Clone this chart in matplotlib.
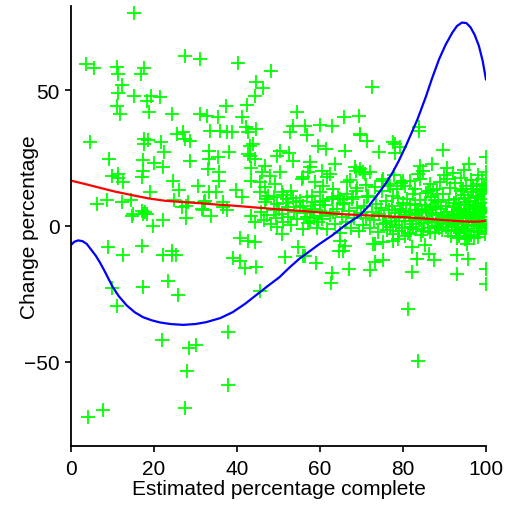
import matplotlib
matplotlib.use("Agg")
import matplotlib.pyplot as plt

plt.rcParams["font.family"] = ["Liberation Sans", "DejaVu Sans"]

# scattered observations (estimated % complete, change %)
sparse_x = [15.2, 3.6, 5.5, 11.0, 11.4, 17.7, 16.9, 27.5, 31.1, 40.2, 44.6, 44.3,
            12.2, 11.4, 15.3, 18.2, 19.4, 21.4, 11.0, 11.7, 18.9, 24.3, 37.3, 42.3,
            31.1, 32.7, 35.5, 41.1, 4.7, 9.2, 17.7, 21.7, 22.5, 25.5, 27.1, 28.8,
            17.6, 17.4, 20.1, 22.1, 17.4, 17.0, 28.7, 33.2, 33.3, 35.5, 38.1, 33.5,
            35.9, 37.5, 42.2, 42.7, 43.9, 42.7, 43.5, 9.9, 11.4, 12.6, 24.5, 26.1,
            30.7, 33.3, 34.9, 35.7, 35.7, 39.8, 6.2, 8.6, 12.2, 14.5, 19.0, 14.6,
            17.0, 18.2, 19.8, 22.2, 24.9, 27.7, 27.7, 31.9, 33.7, 36.7, 37.5, 43.5,
            44.3, 40.7, 42.7, 44.3, 17.0, 9.0, 12.6, 22.2, 24.3, 25.3, 39.1, 40.7,
            41.9, 44.7, 23.3, 10.0, 17.3, 25.7, 11.0, 37.9, 21.9, 28.5, 30.1, 27.9,
            37.9, 7.8, 4.0, 27.5, 45.5, 51.6, 54.6, 56.4, 59.0, 62.8, 62.7, 64.7,
            55.8, 67.1, 65.6, 72.0, 73.3, 75.1, 73.3, 82.1, 83.3, 82.1, 86.3, 87.5,
            85.3, 93.0, 95.7, 93.0, 95.4, 99.9, 99.9, 81.1, 83.7, 48.2, 46.3, 72.5,
            54.4, 53.6, 56.4, 52.8, 56.8, 60.0, 62.8, 65.9, 69.5, 69.6, 71.3, 44.7,
            83.9, 59.6, 61.4, 66.0, 74.3, 78.1, 78.1, 89.7, 50.4, 49.6, 52.6, 53.6,
            57.6, 63.6, 43.1, 44.3, 46.7, 50.4, 55.6, 57.2, 60.4, 62.4, 68.4, 68.8,
            70.4, 72.0, 74.9, 80.1, 84.1, 84.9, 86.9, 90.5, 84.1, 99.9, 99.9, 99.9,
            96.9, 94.5, 38.7, 43.1, 57.6, 33.1, 46.0, 48.0, 43.5, 45.5, 46.7, 49.2,
            56.0, 58.8, 60.8, 61.6, 63.2, 41.1, 32.3, 36.7, 45.5, 47.5, 50.8, 52.0,
            53.6, 55.2, 56.8, 58.8, 60.8, 62.8, 64.4, 65.6, 46.7, 49.6, 52.4, 56.0,
            58.4, 60.0, 63.2, 50.8, 49.6, 50.8, 56.8, 59.6, 57.6, 60.4, 64.8, 18.6,
            27.5, 11.4, 15.0, 17.4, 17.8, 26.7, 28.3, 31.5, 32.1, 24.3, 69.6, 77.7,
            79.3, 69.6, 70.8, 66.4, 75.3, 83.7, 81.7, 73.3, 74.9, 76.9, 78.5, 80.5,
            82.9, 86.1, 88.1, 96.9, 98.6, 68.8, 66.4, 68.0, 71.3, 64.8, 72.8, 75.3,
            78.9, 80.5, 81.7, 66.0, 77.6, 83.9]
sparse_y = [78.4, 59.6, 58.2, 58.4, 56.0, 58.2, 55.8, 62.7, 61.6, 59.9, 52.9, 48.0,
            51.9, 48.9, 47.8, 46.1, 47.8, 47.4, 44.3, 41.2, 41.9, 41.2, 44.3, 44.5,
            41.2, 40.6, 40.0, 40.0, 31.0, 24.7, 32.0, 31.0, 27.4, 33.9, 34.5, 31.4,
            30.2, 24.3, 23.2, 21.6, 20.4, 18.2, 23.8, 27.7, 24.7, 25.3, 27.1, 35.1,
            35.1, 34.7, 36.3, 34.5, 30.2, 26.5, 21.2, 18.5, 19.1, 16.1, 16.7, 13.4,
            14.8, 12.4, 12.4, 19.8, 16.7, 13.4, 8.1, 9.7, 8.7, 9.6, 12.6, 3.8,
            5.6, 4.4, 0.1, 2.3, 9.6, 2.8, 7.5, 6.0, 3.6, 6.9, 6.0, 3.8,
            1.6, -4.5, -5.4, -6.0, -7.3, -7.8, -10.7, -10.7, -10.7, -10.7, -11.9, -12.8,
            -15.6, -15.2, -20.1, -22.8, -22.6, -25.4, -29.3, -39.1, -41.9, -45.0, -43.8, -53.3,
            -58.5, -67.6, -70.4, -67.1, -23.8, -11.3, -7.6, -10.9, -13.7, -17.4, -21.0, -9.3,
            -11.2, -15.8, -9.1, -16.1, -13.3, -12.6, -6.6, -17.0, -12.1, -7.8, -10.3, -12.6,
            -7.0, -10.6, -12.2, -17.8, -6.6, -16.0, -21.4, -30.6, -49.6, 57.2, 50.7, 51.3,
            41.9, 36.9, 36.9, 34.5, 33.5, 37.2, 36.9, 40.0, 40.6, 33.5, 31.4, 35.7,
            35.0, 29.6, 28.4, 27.7, 27.4, 30.2, 26.9, 28.1, 27.7, 25.9, 26.9, 24.0,
            23.5, 22.8, 29.6, 24.7, 22.2, 19.8, 17.3, 19.8, 20.4, 19.1, 21.6, 20.4,
            19.8, 19.8, 16.7, 16.7, 22.2, 20.4, 22.8, 17.3, 17.3, 25.5, 20.0, 14.7,
            13.6, 13.6, 34.5, 25.9, 21.6, 21.0, 19.8, 18.5, 16.7, 16.1, 14.2, 15.5,
            17.9, 16.1, 14.8, 17.9, 13.6, 10.6, 9.3, 8.9, 12.4, 11.2, 12.4, 9.9,
            10.2, 9.3, 10.6, 8.7, 9.3, 9.9, 11.2, 8.1, 8.7, 8.1, 6.9, 7.5,
            6.3, 5.6, 5.0, 4.4, -0.5, -2.9, 3.2, 1.4, 2.0, 3.8, -5.4, 31.8,
            32.0, 17.6, 4.4, 4.4, 5.0, 6.9, 8.7, 6.3, 8.9, -9.1, 33.9, 30.8,
            29.0, 21.0, 19.1, 16.1, 17.3, 19.1, 16.7, 14.2, 13.0, 14.8, 13.6, 14.8,
            13.6, 13.0, 13.6, 14.8, 13.0, 13.0, 11.8, 10.6, 10.6, 9.9, -6.6, -6.0,
            -4.8, -3.6, -2.9, -7.3, -5.4, 36.5]

# dense cluster of late-stage observations
dense_x = [60.5, 61.2, 61.8, 62.5, 63.1, 63.7, 64.2, 64.9, 65.3, 65.8, 66.3, 66.9,
           67.4, 67.8, 68.3, 68.9, 69.4, 69.8, 70.3, 70.7, 71.2, 71.6, 72.1, 72.5,
           73.0, 73.4, 73.9, 74.3, 74.8, 75.2,
           75.5, 75.9, 76.2, 76.6, 77.0, 77.3, 77.7, 78.0, 78.4, 78.7, 79.1, 79.4,
           79.8, 80.1, 80.4, 80.8, 81.1, 81.4, 81.8, 82.1, 82.4, 82.8, 83.1, 83.4,
           83.8, 84.1, 84.4, 84.7, 85.0, 85.3,
           75.8, 76.9, 77.5, 78.2, 79.0, 79.6, 80.3, 81.0, 81.6, 82.3, 83.0, 83.6,
           84.3, 84.9, 85.6,
           85.8, 86.1, 86.4, 86.7, 87.0, 87.3, 87.6, 87.9, 88.2, 88.5, 88.8, 89.1,
           89.4, 89.7, 90.0, 90.3, 90.6, 90.9, 91.2, 91.5, 91.8, 86.0, 86.9, 87.8,
           88.6, 89.5, 90.4, 91.1, 91.9, 86.6, 88.0, 89.2, 90.8, 85.5,
           92.1, 92.3, 92.6, 92.8, 93.1, 93.3, 93.6, 93.8, 94.1, 94.3, 94.6, 94.8,
           95.1, 95.3, 95.6, 95.8, 96.1, 96.3, 96.6, 96.8, 97.1, 97.3, 97.6, 97.8,
           98.1, 98.3, 98.6, 98.8, 99.1, 99.3, 99.6, 99.8,
           92.4, 92.9, 93.4, 93.9, 94.4, 94.9, 95.4, 95.9, 96.4, 96.9, 97.4, 97.9,
           98.4, 98.9, 99.4, 99.9,
           92.2, 92.7, 93.2, 93.7, 94.2, 94.7, 95.2, 95.7, 96.2, 96.7, 97.2, 97.7,
           98.2, 98.7, 99.2, 99.7, 99.5, 99.0, 98.0, 97.0, 96.0, 95.0, 94.0, 93.0,
           45.8, 46.5, 47.3, 48.1, 48.9, 49.4, 50.2, 51.0, 51.7, 52.3, 53.0, 53.8,
           54.5, 55.3, 55.9, 56.5, 57.2, 57.9, 58.6, 59.3, 59.9,
           47.0, 49.0, 51.2, 53.1, 54.2, 58.0, 60.1,
           86.5, 88.9, 91.4, 92.6, 93.9, 95.2, 96.5, 97.9, 99.0, 99.6, 89.9, 87.2,
           77.9, 79.5, 76.3, 71.0, 67.3, 69.0, 92.0, 94.7, 98.2, 90.5, 95.9]
dense_y = [2.5, 7.8, -1.2, 4.1, 10.5, 0.8, 6.2, -2.6, 3.3, 8.4, 1.5, 5.7,
           -0.6, 9.8, 2.9, 6.8, -1.9, 4.6, 0.3, 7.4, 3.1, 11.2, -0.9, 5.2,
           2.2, 8.1, -2.2, 4.4, 6.6, 0.9,
           3.8, 9.1, -1.4, 5.9, 2.0, 7.2, -3.1, 4.8, 0.4, 10.3, 3.2, 6.3,
           -0.8, 8.6, 1.7, 5.1, -2.4, 3.9, 7.7, 0.6, 11.6, 4.3, -1.1, 6.0,
           2.6, 9.4, -3.5, 5.4, 1.2, 7.9,
           1.1, -0.2, 11.0, 2.8, -2.0, 5.6, 3.5, 9.9, 1.9, -0.4, 8.2, 4.9,
           2.1, -1.8, 6.4,
           3.0, -0.7, 5.8, 10.8, 1.6, 7.0, -2.7, 4.2, 0.1, 8.9, 2.4, 6.1,
           -1.5, 11.9, 3.6, -0.3, 5.3, 1.0, 9.6, -3.8, 4.0, 2.2, 4.7, 9.7,
           -0.9, 3.1, 7.5, 2.9, 0.4, -2.2, 6.5, 0.8, -1.9, 12.3,
           2.7, 6.9, -0.5, 10.1, 4.5, 1.3, 8.0, -2.5, 5.5, 2.0, 11.4, -1.0,
           3.7, 7.6, 0.2, 5.0, 9.2, -3.2, 2.5, 6.3, -0.1, 4.1, 10.7, 1.5,
           7.3, -1.7, 3.4, 5.8, 0.7, 8.5, 2.3, -2.8,
           3.9, 0.9, -3.6, 6.2, 3.0, 8.8, -1.8, 2.9, 12.5, 3.1, 7.9, -2.1,
           1.9, 9.8, 4.6, 0.0,
           8.6, -1.6, 5.9, 3.3, -0.2, 5.1, 1.9, 10.4, 4.3, 0.5, 7.1, 3.8,
           11.2, -0.6, 5.3, 6.7, 11.6, 13.8, -4.0, -4.4, -3.9, -4.8, 12.8, -4.4,
           5.2, 2.1, 3.9, 0.8, 5.8, 2.9, 6.2, 1.4, 8.3, 3.4, 0.2, 5.1,
           2.6, 7.0, -1.2, 4.9, 1.0, 6.0, 3.0, -0.6, 7.9,
           9.8, 10.7, 11.4, 12.8, 9.0, 11.0, 12.5,
           15.6, 16.3, 14.1, 15.9, 17.6, 14.6, 16.9, 15.4, 17.2, 15.0, 18.8, 13.4,
           18.7, 15.9, 15.5, 15.1, 16.8, 13.9, 19.5, 20.7, 18.6, 21.4, 22.9]

# smooth trend (red) and polynomial fit (blue)
trend_x = [0, 3.0, 6.6, 10.5, 14.6, 18.5, 22.6, 27.0, 31.0, 35.0, 39.0, 43.0,
           47.0, 51.0, 55.0, 60.0, 64.7, 68.7, 72.7, 76.7, 80.7, 84.7, 88.7,
           92.3, 95.9, 98.0, 100]
trend_y = [16.7, 15.6, 14.2, 12.7, 11.4, 10.2, 9.3, 8.8, 8.4, 7.9, 7.5, 7.0,
           6.5, 6.0, 5.6, 5.0, 4.4, 4.1, 3.8, 3.5, 3.2, 2.8, 2.3, 1.9, 1.6,
           1.6, 1.9]

fit_x = [0, 0.8, 1.75, 2.8, 3.8, 5.0, 6.0, 7.0, 8.0, 9.0, 10.0, 11.5, 13.4,
         15.4, 17.4, 19.4, 21.4, 24.0, 27.0, 30.0, 32.6, 36.0, 39.0, 42.0,
         45.0, 47.5, 50.2, 52.5, 55.0, 57.5, 59.9, 63.0, 65.9, 68.0, 69.5,
         72.0, 74.3, 76.0, 77.5, 79.0, 80.7, 82.0, 83.5, 85.5, 87.0, 88.7,
         90.3, 91.9, 93.0, 94.2, 95.3, 96.3, 97.3, 98.3, 99.2, 100]
fit_y = [-7.0, -5.8, -5.3, -5.6, -6.6, -9.0, -11.0, -13.5, -16.3, -19.3,
         -22.3, -25.8, -29.2, -31.8, -33.6, -34.7, -35.5, -36.1, -36.4, -36.1,
         -35.4, -33.9, -31.7, -28.6, -25.0, -22.0, -18.9, -15.5, -12.1, -9.3,
         -6.6, -3.4, 0.1, 2.3, 3.8, 7.8, 12.4, 16.0, 19.7, 24.0, 29.5, 34.0,
         39.3, 47.5, 54.3, 61.4, 66.8, 71.2, 73.6, 74.9, 74.7, 73.1, 70.3,
         66.3, 60.8, 54.0]

fig = plt.figure(figsize=(5.07, 5.06), dpi=100)
ax = fig.add_axes([0.140, 0.1166, 0.8185, 0.8696])

ax.plot(sparse_x + dense_x, sparse_y + dense_y, linestyle="none", marker="+",
        color="#00FF00", markersize=9.5, markeredgewidth=1.3)
ax.plot(trend_x, trend_y, color="#FF0000", linewidth=1.6)
ax.plot(fit_x, fit_y, color="#0000FF", linewidth=1.6)

ax.set_xlim(0, 100)
ax.set_ylim(-81, 81)
ax.set_xticks([0, 20, 40, 60, 80, 100])
ax.set_yticks([-50, 0, 50])
ax.spines["top"].set_visible(False)
ax.spines["right"].set_visible(False)
ax.spines["left"].set_linewidth(1.3)
ax.spines["bottom"].set_linewidth(1.3)
ax.tick_params(labelsize=15, length=4, width=1.2)
ax.tick_params(axis="x", pad=5)
ax.tick_params(axis="y", pad=4)
ax.set_xlabel("Estimated percentage complete", fontsize=15)
ax.set_ylabel("Change percentage", fontsize=15)
ax.xaxis.set_label_coords(0.5, -0.076)
ax.yaxis.set_label_coords(-0.078, 0.5)

fig.savefig("out.png", dpi=100)
